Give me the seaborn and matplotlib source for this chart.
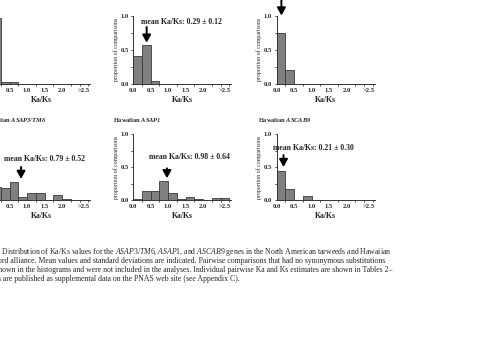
import matplotlib
matplotlib.use("Agg")
import matplotlib.pyplot as plt
import seaborn as sns

# lower edge of each Ka/Ks class; the last class is ">2.5"
bin_lo = [0.0, 0.25, 0.5, 0.75, 1.0, 1.25, 1.5, 1.75, 2.0, 2.25, 2.5]
bin_edges = bin_lo + [2.75]
xtick_pos = [0.0, 0.5, 1.0, 1.5, 2.0, 2.625]
xtick_labels = ["0.0", "0.5", "1.0", "1.5", "2.0", ">2.5"]

# proportion of comparisons in each class
na_asap3 = [0.96, 0.02, 0.02, 0, 0, 0, 0, 0, 0, 0, 0]
na_asap1 = [0.41, 0.57, 0.03, 0, 0, 0, 0, 0, 0, 0, 0]
na_ascab9 = [0.75, 0.20, 0, 0, 0, 0, 0, 0, 0, 0, 0]
hw_asap3 = [0.20, 0.18, 0.27, 0.04, 0.11, 0.10, 0, 0.07, 0.02, 0, 0]
hw_asap1 = [0.02, 0.13, 0.14, 0.29, 0.10, 0.02, 0.04, 0.02, 0, 0.03, 0.03]
hw_ascab9 = [0.44, 0.16, 0, 0.06, 0, 0, 0, 0, 0, 0, 0]

panels = [na_asap3, na_asap1, na_ascab9, hw_asap3, hw_asap1, hw_ascab9]
regions = ["North American"] * 3 + ["Hawaiian"] * 3
genes = ["ASAP3/TM6", "ASAP1", "ASCAB9"] * 2
# mean +- sd (top-left / top-right text lies outside the crop)
means = [None, "0.29 ± 0.12", None, "0.79 ± 0.52", "0.98 ± 0.64", "0.21 ± 0.30"]

caption = [
    r"$\mathbf{Fig.\ 3.}$ Distribution of Ka/Ks values for the $\mathit{ASAP3/TM6}$, "
    r"$\mathit{ASAP1}$, and $\mathit{ASCAB9}$ genes in the North American tarweeds and Hawaiian",
    "silversword alliance. Mean values and standard deviations are indicated. "
    "Pairwise comparisons that had no synonymous substitutions",
    "are not shown in the histograms and were not included in the analyses. "
    "Individual pairwise Ka and Ks estimates are shown in Tables 2\u2013",
    "7, which are published as supplemental data on the PNAS web site (see Appendix C).",
]

sns.set_style("ticks")
plt.rcParams["font.family"] = ["Liberation Serif", "DejaVu Serif"]
plt.rcParams["mathtext.fontset"] = "custom"
plt.rcParams["mathtext.rm"] = "Liberation Serif"
plt.rcParams["mathtext.it"] = "Liberation Serif:italic"
plt.rcParams["mathtext.bf"] = "Liberation Serif:bold"
plt.rcParams["mathtext.bfit"] = "Liberation Serif:bold:italic"

W, H = 480, 340
fig = plt.figure(figsize=(4.8, 3.4), dpi=100)

# layout in pixels (the figure is a crop, left column runs off the edge)
col_x = [-8, 133, 276.5]
row_base = [83.5, 200]
row_h = [68, 66]
ax_w = 98
caption_x = [-23, -28.5, -28.5, -25.5]

# arrow x, tail y, tip y   /  mean-text x, y  /  title x
arrows = [None, (0.39, 0.83, 0.60), (0.14, 1.25, 1.0),
          (0.83, 0.50, 0.32), (0.97, 0.48, 0.33), (0.20, 0.68, 0.50)]
mean_pos = [None, (0.23, 0.90), None, (0.34, 0.62), (0.46, 0.65), (-0.10, 0.79)]
title_x = [None, None, None, -0.27, -0.57, -0.53]

for i, vals in enumerate(panels):
    r, c = divmod(i, 3)
    ax = fig.add_axes([col_x[c] / W, (H - row_base[r]) / H, ax_w / W, row_h[r] / H])
    sns.histplot(x=bin_lo, weights=vals, bins=bin_edges, color="#808080",
                 edgecolor="#3a3a3a", linewidth=0.6, alpha=1, ax=ax)
    ax.set_xlim(0, 2.8)
    ax.set_ylim(0, 1.0)
    sns.despine(ax=ax)
    for s in ["left", "bottom"]:
        ax.spines[s].set_linewidth(0.7)
        ax.spines[s].set_color("#333333")

    # left column is cropped: its y labels and the 0.0 label fall off the image
    xl = list(xtick_labels)
    yl = ["0.0", "0.5", "1.0"]
    ylab = "proportion of comparisons"
    if c == 0:
        xl[0] = ""
        yl = ["", "", ""]
        ylab = ""

    ax.set_xticks(xtick_pos)
    ax.set_xticklabels(xl, fontweight="bold", fontsize=4.8)
    ax.set_xticks(bin_edges, minor=True)
    ax.tick_params(axis="x", which="major", length=0, pad=3.2)
    ax.tick_params(axis="x", which="minor", length=1.6, width=0.6, color="#333333")
    ax.set_yticks([0, 0.5, 1.0])
    ax.set_yticklabels(yl, fontweight="bold", fontsize=4.8)
    ax.set_yticks([0.25, 0.75], minor=True)
    ax.tick_params(axis="y", which="both", length=1.6, width=0.6, pad=1.5, color="#333333")

    ax.set_xlabel("Ka/Ks", fontweight="bold", fontsize=5.6, labelpad=2)
    ax.set_ylabel(ylab, fontsize=4.2, labelpad=1)

    if title_x[i] is not None:
        ax.text(title_x[i], 1.21, regions[i] + r" $\mathbfit{" + genes[i] + "}$",
                fontweight="bold", fontsize=4.6, va="center")
    if means[i] is not None:
        mx, my = mean_pos[i]
        ax.text(mx, my, "mean Ka/Ks: " + means[i], fontweight="bold",
                fontsize=5.6, va="center")
    if arrows[i] is not None:
        axx, tail, tip = arrows[i]
        ax.annotate("", xy=(axx, tip), xytext=(axx, tail), annotation_clip=False,
                    arrowprops=dict(arrowstyle="-|>,head_length=0.45,head_width=0.25",
                                    color="black", lw=1.4, shrinkA=0, shrinkB=0))

for k, line in enumerate(caption):
    fig.text(caption_x[k] / W, (H - (252 + 9 * k)) / H, line, fontsize=5.55, va="center")

fig.savefig("out.png", dpi=100)
